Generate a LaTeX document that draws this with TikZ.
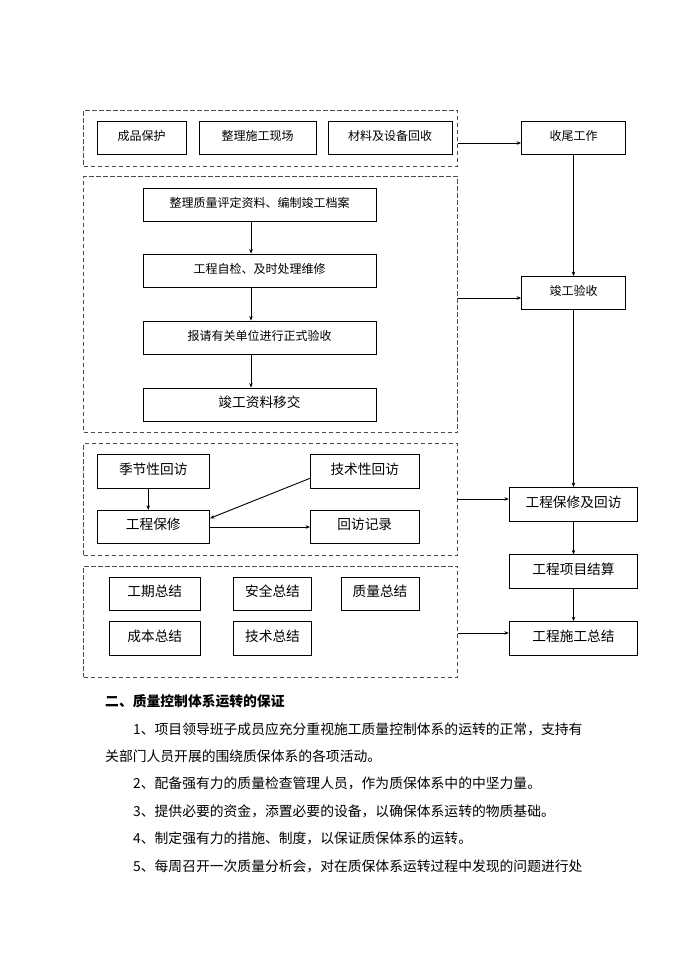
\documentclass[tikz,border=0pt]{standalone}
\usepackage{fontspec}
\setmainfont{Noto Sans CJK SC}
\usetikzlibrary{arrows.meta}
\begin{document}
\begin{tikzpicture}[x=1pt,y=-1pt,
  box/.style={draw=black, line width=0.8pt, inner sep=0pt, minimum height=33pt,
    text height=0.85em, text depth=0.3em, font=\fontsize{12}{14}\selectfont},
  big/.style={font=\fontsize{13.7}{16}\selectfont},
  dbox/.style={draw=black!70, line width=0.8pt, dash pattern=on 4.5pt off 2.5pt, inner sep=0pt},
  arr/.style={line width=0.9pt, -{Stealth[length=4.5pt,width=3.5pt]}},
  para/.style={anchor=west, inner sep=0pt, text height=0.88em, text depth=0.12em,
    font=\fontsize{13.8}{16}\selectfont}]
\fill[white] (0,0) rectangle (690,975);
\useasboundingbox (0,0) rectangle (690,975);

% dashed group frames
\node[dbox, minimum width=374pt, minimum height=56pt]  (D1) at (270.5,138) {};
\node[dbox, minimum width=374pt, minimum height=256pt] (D2) at (270.5,304.5) {};
\node[dbox, minimum width=374pt, minimum height=111.5pt] (D3) at (270.5,499.25) {};
\node[dbox, minimum width=374pt, minimum height=111pt] (D4) at (270.5,621.5) {};

% group 1
\node[box, minimum width=89pt]  (b1) at (141.5,137.5) {成品保护};
\node[box, minimum width=117pt] (b2) at (257.5,137.5) {整理施工现场};
\node[box, minimum width=124pt] (b3) at (390,137.5)   {材料及设备回收};

% group 2
\node[box, minimum width=233pt] (c1) at (259.5,204.5) {整理质量评定资料、编制竣工档案};
\node[box, minimum width=233pt] (c2) at (259.5,270.5) {工程自检、及时处理维修};
\node[box, minimum width=233pt] (c3) at (259.5,337.5) {报请有关单位进行正式验收};
\node[box, big, minimum width=233pt] (c4) at (259.5,404.5) {竣工资料移交};
\draw[arr] ([xshift=-8.5pt]c1.south) -- ([xshift=-8.5pt]c2.north);
\draw[arr] ([xshift=-8.5pt]c2.south) -- ([xshift=-8.5pt]c3.north);
\draw[arr] ([xshift=-8.5pt]c3.south) -- ([xshift=-8.5pt]c4.north);

% group 3
\node[box, big, minimum width=112.5pt, minimum height=33.5pt] (d1) at (153.25,471.25) {季节性回访};
\node[box, big, minimum width=108.5pt, minimum height=33.5pt] (d2) at (364.75,471.25) {技术性回访};
\node[box, big, minimum width=112.5pt, minimum height=33.5pt] (d3) at (153.25,527)    {工程保修};
\node[box, big, minimum width=108.5pt, minimum height=33.5pt] (d4) at (364.75,527)    {回访记录};
\draw[arr] ([xshift=-5pt]d1.south) -- ([xshift=-5pt]d3.north);
\draw[arr] ([yshift=-7pt]d2.west) -- ([yshift=8.7pt]d3.east);
\draw[arr] (d3.east) -- (d4.west);

% group 4
\node[box, big, minimum width=90.5pt, minimum height=33.5pt] (e1) at (154.75,593.75) {工期总结};
\node[box, big, minimum width=78pt,   minimum height=33.5pt] (e2) at (272.5,593.75)  {安全总结};
\node[box, big, minimum width=78pt,   minimum height=33.5pt] (e3) at (380,593.75)    {质量总结};
\node[box, big, minimum width=90.5pt, minimum height=33.5pt] (e4) at (154.75,638.5)  {成本总结};
\node[box, big, minimum width=78pt,   minimum height=33.5pt] (e5) at (272.5,638.5)   {技术总结};

% right column
\node[box, minimum width=104pt] (r1) at (573.5,137.5) {收尾工作};
\node[box, minimum width=104pt] (r2) at (573.5,293)   {竣工验收};
\node[box, big, minimum width=128.5pt, minimum height=33.5pt] (r3) at (573.5,504.25) {工程保修及回访};
\node[box, big, minimum width=128.5pt, minimum height=33.5pt] (r4) at (573.5,571.6)  {工程项目结算};
\node[box, big, minimum width=128.5pt, minimum height=33.5pt] (r5) at (573.5,638.3)  {工程施工总结};

\draw[arr] (r1.south) -- (r2.north);
\draw[arr] (r2.south) -- (r3.north);
\draw[arr] (r3.south) -- (r4.north);
\draw[arr] (r4.south) -- (r5.north);

% group to column connectors
\coordinate (y1) at (0,143);
\coordinate (y2) at (0,298);
\coordinate (y3) at (0,499);
\coordinate (y4) at (0,633);
\draw[arr] (D1.east |- y1) -- (r1.west |- y1);
\draw[arr] (D2.east |- y2) -- (r2.west |- y2);
\draw[arr] (D3.east |- y3) -- (r3.west |- y3);
\draw[arr] (D4.east |- y4) -- (r5.west |- y4);

% text below
\node[para, font=\fontsize{13.8}{16}\selectfont\bfseries] (h) at (105,703) {二、质量控制体系运转的保证};
\node[para] (p1) at (133,731)   {1、项目领导班子成员应充分重视施工质量控制体系的运转的正常，支持有};
\node[para] (p2) at (105,758)   {关部门人员开展的围绕质保体系的各项活动。};
\node[para] (p3) at (133,785)   {2、配备强有力的质量检查管理人员，作为质保体系中的中坚力量。};
\node[para] (p4) at (133,812.5) {3、提供必要的资金，添置必要的设备，以确保体系运转的物质基础。};
\node[para] (p5) at (133,840)   {4、制定强有力的措施、制度，以保证质保体系的运转。};
\node[para] (p6) at (133,867.5) {5、每周召开一次质量分析会，对在质保体系运转过程中发现的问题进行处};
\end{tikzpicture}
\end{document}
